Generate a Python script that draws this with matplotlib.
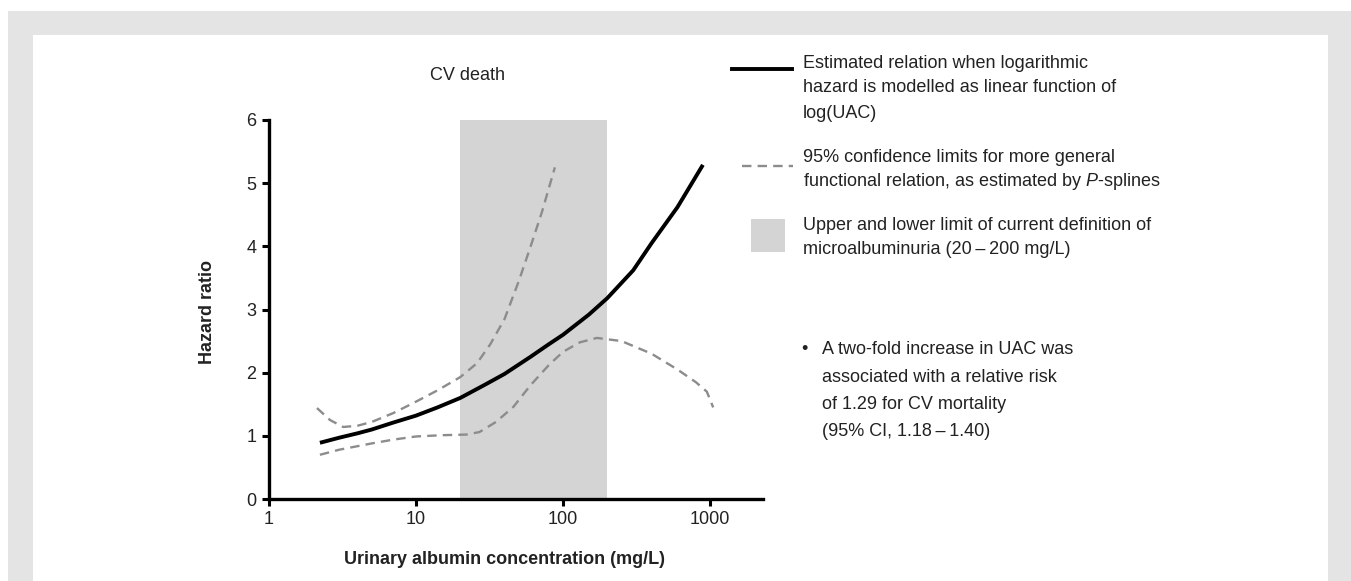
import matplotlib

matplotlib.use("Agg")

import matplotlib.pyplot as plt
from matplotlib.lines import Line2D
from matplotlib.patches import Rectangle

plt.rcParams["font.family"] = ["Liberation Sans", "DejaVu Sans"]
plt.rcParams["mathtext.fontset"] = "custom"
plt.rcParams["mathtext.rm"] = "Liberation Sans"
plt.rcParams["mathtext.it"] = "Liberation Sans:italic"

# estimated relation (log-linear model)
uac_fit = [2.22, 3, 4, 5, 7, 10, 14, 20, 30, 40, 60, 80, 100, 150, 200, 300, 400, 600, 894]
hr_fit = [0.89, 0.97, 1.04, 1.10, 1.21, 1.32, 1.45, 1.60, 1.82, 1.98, 2.25, 2.45, 2.60,
          2.92, 3.18, 3.62, 4.05, 4.62, 5.29]

# P-spline 95% confidence limits
uac_upper = [2.12, 2.6, 3.2, 4, 5, 7, 9.6, 14, 20, 26, 32, 40, 50, 60, 72, 88]
hr_upper = [1.44, 1.25, 1.14, 1.16, 1.22, 1.36, 1.52, 1.72, 1.93, 2.15, 2.45, 2.85, 3.45,
            3.99, 4.55, 5.25]
uac_lower = [2.22, 3, 5, 7, 10, 15, 22, 27, 35, 46, 60, 80, 100, 130, 170, 250, 400, 600,
             800, 950, 1050]
hr_lower = [0.70, 0.78, 0.88, 0.94, 0.99, 1.01, 1.02, 1.06, 1.22, 1.46, 1.80, 2.12, 2.33,
            2.48, 2.55, 2.50, 2.30, 2.05, 1.85, 1.70, 1.45]

micro_range = (20, 200)
x_ticks = [1, 10, 100, 1000]
y_ticks = [0, 1, 2, 3, 4, 5, 6]

legend_solid = ["Estimated relation when logarithmic",
                "hazard is modelled as linear function of",
                "log(UAC)"]
legend_dashed = ["95% confidence limits for more general",
                 "functional relation, as estimated by $\\mathit{P}$-splines"]
legend_band = ["Upper and lower limit of current definition of",
               "microalbuminuria (20\u2009\u2013\u2009200 mg/L)"]
bullet_lines = ["A two-fold increase in UAC was",
                "associated with a relative risk",
                "of 1.29 for CV mortality",
                "(95% CI, 1.18\u2009\u2013\u20091.40)"]

W, H = 1351, 581
TEXT = "#222222"
BAND = "#d4d4d4"
DASH = "#8c8c8c"


def fx(px):
    return px / W


def fy(py):
    return 1 - py / H


fig = plt.figure(figsize=(W / 100, H / 100), dpi=100)
fig.patches.append(Rectangle((fx(8), 0), 1 - fx(8), fy(11), transform=fig.transFigure,
                             facecolor="#e4e4e4", edgecolor="none", zorder=-2))
fig.patches.append(Rectangle((fx(33), 0), fx(1328) - fx(33), fy(35), transform=fig.transFigure,
                             facecolor="white", edgecolor="none", zorder=-1))

ax = fig.add_axes([fx(269), fy(499), fx(763) - fx(269), fy(120) - fy(499)])
ax.set_facecolor("none")
ax.set_xscale("log")
ax.set_xlim(1, 10 ** 3.36)
ax.set_ylim(0, 6)

ax.axvspan(*micro_range, color=BAND, lw=0, zorder=0)
ax.plot(uac_upper, hr_upper, color=DASH, lw=1.7, dashes=(4, 2.6), zorder=2)
ax.plot(uac_lower, hr_lower, color=DASH, lw=1.7, dashes=(4, 2.6), zorder=2)
ax.plot(uac_fit, hr_fit, color="black", lw=2.8, solid_capstyle="butt", zorder=3)

for side in ["top", "right"]:
    ax.spines[side].set_visible(False)
for side in ["left", "bottom"]:
    ax.spines[side].set_linewidth(2.4)
ax.set_xticks(x_ticks)
ax.set_xticklabels([str(t) for t in x_ticks])
ax.xaxis.set_minor_locator(matplotlib.ticker.NullLocator())
ax.set_yticks(y_ticks)
ax.tick_params(width=2.2, length=5, labelsize=13, colors=TEXT, pad=4)
ax.tick_params(axis="both", color="black")

fig.text(fx(504), fy(560), "Urinary albumin concentration (mg/L)", ha="center", va="center",
         fontsize=13, fontweight="bold", color=TEXT)
fig.text(fx(208), fy(312), "Hazard ratio", ha="center", va="center", rotation=90,
         fontsize=13, fontweight="bold", color=TEXT)
fig.text(fx(467), fy(75), "CV death", ha="center", va="center", fontsize=13, color=TEXT)

# legend, drawn by hand
fig.add_artist(Line2D([fx(732), fx(792)], [fy(69), fy(69)], color="black", lw=2.8,
                      transform=fig.transFigure))
fig.add_artist(Line2D([fx(742), fx(793)], [fy(166), fy(166)], color=DASH, lw=1.7,
                      dashes=(4, 2.6), transform=fig.transFigure))
fig.patches.append(Rectangle((fx(751), fy(252)), fx(785) - fx(751), fy(219) - fy(252),
                             transform=fig.transFigure, facecolor=BAND, edgecolor="none"))

for lines, y0 in [(legend_solid, 63), (legend_dashed, 157), (legend_band, 225)]:
    for i, line in enumerate(lines):
        fig.text(fx(803), fy(y0 + 25 * i), line, ha="left", va="center", fontsize=13, color=TEXT)

fig.text(fx(801), fy(350), "\u2022", ha="left", va="center", fontsize=13, color=TEXT)
for i, line in enumerate(bullet_lines):
    fig.text(fx(822), fy(350 + 27.3 * i), line, ha="left", va="center", fontsize=13, color=TEXT)

fig.savefig("out.png", dpi=100)
